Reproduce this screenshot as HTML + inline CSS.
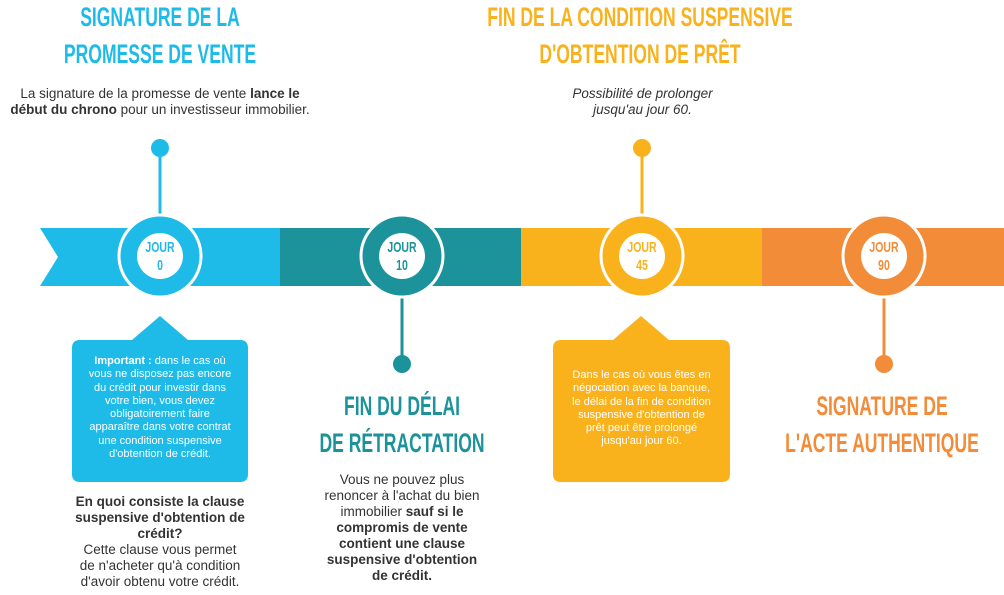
<!DOCTYPE html><html><head><meta charset="utf-8"><style>
body{margin:0;width:1004px;height:595px;position:relative;background:#fff;overflow:hidden;font-family:"Liberation Sans",sans-serif}
.h{position:absolute;font-weight:bold;text-align:center;font-size:27px;line-height:37px;white-space:nowrap;transform:scaleX(0.65);transform-origin:center top}
.t{position:absolute;text-align:center;font-size:13.5px;line-height:16px;color:#333;white-space:nowrap}
.b{position:absolute;text-align:center;font-size:11px;line-height:13.3px;color:#fff;white-space:nowrap}
.c{position:absolute;text-align:center;font-weight:bold;font-size:15px;line-height:18px;transform:scaleX(0.7);transform-origin:center top}
</style></head><body>
<svg width="1004" height="595" style="position:absolute;left:0;top:0">
<polygon points="40,228 280,228 280,286 40,286 58,257" fill="#1fbbe8"/>
<rect x="280" y="228" width="241" height="58" fill="#1c929b"/>
<rect x="521" y="228" width="241" height="58" fill="#f9b21c"/>
<rect x="762" y="228" width="242" height="58" fill="#f28c38"/>
<line x1="160" y1="148" x2="160" y2="220" stroke="#1fbbe8" stroke-width="3"/><circle cx="160" cy="148" r="9" fill="#1fbbe8"/>
<line x1="642" y1="148" x2="642" y2="220" stroke="#f9b21c" stroke-width="3"/><circle cx="642" cy="148" r="9" fill="#f9b21c"/>
<line x1="402" y1="290" x2="402" y2="364" stroke="#1c929b" stroke-width="3"/><circle cx="402" cy="364" r="9" fill="#1c929b"/>
<line x1="884" y1="290" x2="884" y2="364" stroke="#f28c38" stroke-width="3"/><circle cx="884" cy="364" r="9" fill="#f28c38"/>
<g stroke="#fff" stroke-width="3">
<circle cx="160" cy="256" r="41" fill="#1fbbe8"/><circle cx="402" cy="256" r="41" fill="#1c929b"/>
<circle cx="642" cy="256" r="41" fill="#f9b21c"/><circle cx="884" cy="256" r="41" fill="#f28c38"/></g>
<g fill="#fff"><circle cx="160" cy="256" r="23"/><circle cx="402" cy="256" r="23"/><circle cx="642" cy="256" r="23"/><circle cx="884" cy="256" r="23"/></g>
<path d="M160,316 L188,340 L240,340 Q248,340 248,348 L248,474 Q248,482 240,482 L80,482 Q72,482 72,474 L72,348 Q72,340 80,340 L132,340 Z" fill="#1fbbe8"/>
<path d="M641,316 L669,340 L722,340 Q730,340 730,348 L730,474 Q730,482 722,482 L561,482 Q553,482 553,474 L553,348 Q553,340 561,340 L613,340 Z" fill="#f9b21c"/>
</svg>
<div class="c" style="left:130px;top:239px;width:60px;color:#1fbbe8">JOUR<br>0</div>
<div class="c" style="left:372px;top:239px;width:60px;color:#1c929b">JOUR<br>10</div>
<div class="c" style="left:612px;top:239px;width:60px;color:#f9b21c">JOUR<br>45</div>
<div class="c" style="left:854px;top:239px;width:60px;color:#f28c38">JOUR<br>90</div>
<div class="h" style="left:-40px;top:-1px;width:400px;color:#1fbbe8">SIGNATURE DE LA<br>PROMESSE DE VENTE</div>
<div class="t" style="left:0px;top:86px;width:320px">La signature de la promesse de vente <b>lance le</b><br><b>début du chrono</b> pour un investisseur immobilier.</div>
<div class="h" style="left:390px;top:-1px;width:500px;color:#f9b21c">FIN DE LA CONDITION SUSPENSIVE<br>D'OBTENTION DE PRÊT</div>
<div class="t" style="left:540px;top:86px;width:205px;font-style:italic">Possibilité de prolonger<br>jusqu'au jour 60.</div>
<div class="b" style="left:72px;top:355px;width:176px"><b>Important :</b> dans le cas où<br>vous ne disposez pas encore<br>du crédit pour investir dans<br>votre bien, vous devez<br>obligatoirement faire<br>apparaître dans votre contrat<br>une condition suspensive<br>d'obtention de crédit.</div>
<div class="b" style="left:553px;top:369px;width:177px">Dans le cas où vous êtes en<br>négociation avec la banque,<br>le délai de la fin de condition<br>suspensive d'obtention de<br>prêt peut être prolongé<br>jusqu'au jour 60.</div>
<div class="t" style="left:40px;top:494px;width:240px"><b>En quoi consiste la clause<br>suspensive d'obtention de<br>crédit?</b><br>Cette clause vous permet<br>de n'acheter qu'à condition<br>d'avoir obtenu votre crédit.</div>
<div class="h" style="left:252px;top:388px;width:300px;color:#1c929b">FIN DU DÉLAI<br>DE RÉTRACTATION</div>
<div class="t" style="left:282px;top:472px;width:240px">Vous ne pouvez plus<br>renoncer à l'achat du bien<br>immobilier <b>sauf si le<br>compromis de vente<br>contient une clause<br>suspensive d'obtention<br>de crédit.</b></div>
<div class="h" style="left:732px;top:388px;width:300px;color:#f28c38">SIGNATURE DE<br>L'ACTE AUTHENTIQUE</div>
</body></html>
